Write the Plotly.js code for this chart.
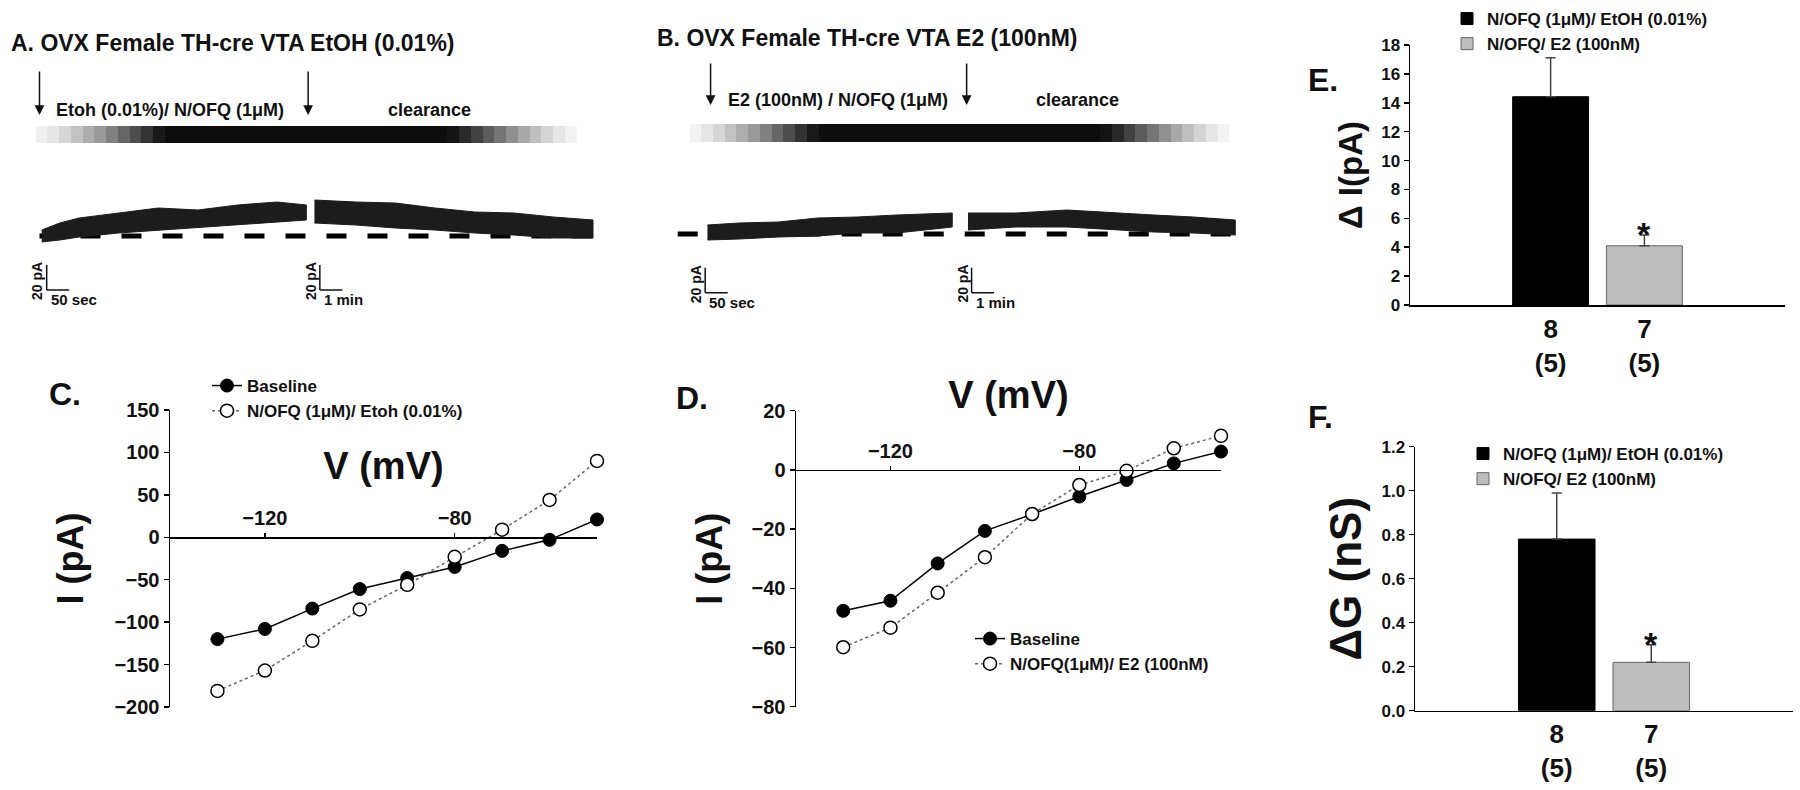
<!DOCTYPE html>
<html>
<head>
<meta charset="utf-8">
<script src="https://cdn.plot.ly/plotly-3.0.1.min.js"></script>
<style>html,body{margin:0;padding:0;background:#fff;}#chart{width:1800px;height:790px;}</style>
</head>
<body>
<div id="chart"></div>
<script>
// ---------------- DATA ----------------
// Panel A recording (time s, current pA): upper / lower envelope of the noisy trace
const tA1 = [5, 45, 88, 176, 264, 352, 440, 528, 593];
const upA1 = [4.8, 10.4, 14.4, 18.4, 22.4, 20.8, 24.8, 27.2, 24.8];
const loA1 = [-4.8, -3.2, -0.8, 2.4, 4.8, 7.2, 8.8, 11.2, 12.8];
const tA2 = [611, 703, 791, 879, 967, 1054, 1142, 1230];
const upA2 = [28.8, 27.2, 26.4, 22.4, 19.2, 18.4, 15.2, 12.8];
const loA2 = [10.4, 8.8, 6.4, 4.8, 2.4, 0.8, -1.6, -1.6];
const baseA_t = [0, 1266];
const baseA_i = [0, 0];
const drugTimesA = [0, 597];

// Panel B recording
const tB1 = [5, 75, 163, 250, 338, 426, 549];
const upB1 = [7.2, 8.8, 9.6, 12.8, 13.6, 15.2, 16.8];
const loB1 = [-4.8, -4.0, -2.4, -1.6, 0.8, 0.8, 5.6];
const tB2 = [584, 690, 804, 910, 997, 1085, 1178];
const upB2 = [16.8, 16.8, 19.2, 16.8, 15.2, 13.6, 11.2];
const loB2 = [3.2, 5.6, 5.6, 3.2, 1.6, 0.8, -0.8];
const baseB_t = [-61, 1208];
const baseB_i = [0, 0];
const drugTimesB = [12, 581];

// Perfusion bars (darkness 0..1)
const gradA = [0.06, 0.10, 0.16, 0.24, 0.32, 0.40, 0.50, 0.60, 0.70, 0.80, 0.90,
  0.95, 0.95, 0.95, 0.95, 0.95, 0.95, 0.95, 0.95, 0.95, 0.95, 0.95, 0.95,
  0.95, 0.95, 0.95, 0.95, 0.95, 0.95, 0.95, 0.95, 0.95, 0.95, 0.95, 0.95,
  0.92, 0.84, 0.74, 0.64, 0.54, 0.44, 0.34, 0.25, 0.17, 0.10, 0.05];
const gradB = [0.05, 0.10, 0.16, 0.24, 0.32, 0.40, 0.50, 0.60, 0.70, 0.80, 0.90,
  0.95, 0.95, 0.95, 0.95, 0.95, 0.95, 0.95, 0.95, 0.95, 0.95, 0.95, 0.95,
  0.95, 0.95, 0.95, 0.95, 0.95, 0.95, 0.95, 0.95, 0.95, 0.95, 0.95, 0.95,
  0.92, 0.84, 0.74, 0.64, 0.54, 0.44, 0.34, 0.25, 0.17, 0.10, 0.05];

// Panel C / D I-V curves
const voltages = [-130, -120, -110, -100, -90, -80, -70, -60, -50];
const cBaseline = [-120, -108, -84, -61, -48, -35, -16, -3, 21];
const cNOFQ = [-181, -157, -122, -85, -56, -23, 9, 44, 90];
const dBaseline = [-47.6, -44.2, -31.6, -20.6, -15.0, -9.0, -3.4, 2.2, 6.2];
const dNOFQ = [-59.9, -53.3, -41.5, -29.5, -14.9, -5.1, -0.3, 7.3, 11.5];

// Panel E / F bars
const groupNames = ['N/OFQ (1μM)/ EtOH (0.01%)', 'N/OFQ/ E2 (100nM)'];
const nCells = ['8', '7'];
const nAnimals = ['(5)', '(5)'];
const deltaI = [14.42, 4.1];
const deltaIsem = [2.7, 0.75];
const deltaG = [0.78, 0.22];
const deltaGsem = [0.21, 0.08];

// ---------------- HELPERS ----------------
const W = 1800, H = 790;
const FF = 'Liberation Sans, Arial, Helvetica, sans-serif';
const fx = p => p / W;
const fy = p => 1 - p / H;
const bold = (size, color) => ({family: FF, size: size, color: color || '#111', weight: 'bold'});
const band = (t, up, lo) => ({x: t.concat(t.slice().reverse()), y: up.concat(lo.slice().reverse())});
const zeroPos = (dom, rng) => dom[0] + (0 - rng[0]) / (rng[1] - rng[0]) * (dom[1] - dom[0]);

const traces = [];

// Recording A
traces.push({type: 'scatter', mode: 'lines', x: baseA_t, y: baseA_i, xaxis: 'x5', yaxis: 'y5',
  line: {color: '#000', width: 5, dash: '20px,21px'}, showlegend: false, hoverinfo: 'skip'});
[[tA1, upA1, loA1], [tA2, upA2, loA2]].forEach(s => {
  const b = band(s[0], s[1], s[2]);
  traces.push({type: 'scatter', mode: 'lines', x: b.x, y: b.y, fill: 'toself', fillcolor: '#1c1c1c',
    line: {color: '#1c1c1c', width: 1}, xaxis: 'x5', yaxis: 'y5', showlegend: false, hoverinfo: 'skip'});
});
// Recording B
traces.push({type: 'scatter', mode: 'lines', x: baseB_t, y: baseB_i, xaxis: 'x6', yaxis: 'y6',
  line: {color: '#000', width: 5, dash: '20px,21px'}, showlegend: false, hoverinfo: 'skip'});
[[tB1, upB1, loB1], [tB2, upB2, loB2]].forEach(s => {
  const b = band(s[0], s[1], s[2]);
  traces.push({type: 'scatter', mode: 'lines', x: b.x, y: b.y, fill: 'toself', fillcolor: '#1c1c1c',
    line: {color: '#1c1c1c', width: 1}, xaxis: 'x6', yaxis: 'y6', showlegend: false, hoverinfo: 'skip'});
});
// Perfusion gradient bars
const gray = [[0, '#ffffff'], [1, '#000000']];
traces.push({type: 'heatmap', z: [gradA], xaxis: 'x7', yaxis: 'y7', colorscale: gray, zmin: 0, zmax: 1,
  showscale: false, hoverinfo: 'skip'});
traces.push({type: 'heatmap', z: [gradB], xaxis: 'x8', yaxis: 'y8', colorscale: gray, zmin: 0, zmax: 1,
  showscale: false, hoverinfo: 'skip'});

// Panel C
traces.push({type: 'scatter', mode: 'lines+markers', name: 'Baseline', x: voltages, y: cBaseline,
  xaxis: 'x', yaxis: 'y', legend: 'legend', cliponaxis: false,
  line: {color: '#000', width: 1.5}, marker: {size: 13, color: '#000', line: {color: '#000', width: 1}}});
traces.push({type: 'scatter', mode: 'lines+markers', name: 'N/OFQ (1μM)/ Etoh (0.01%)', x: voltages, y: cNOFQ,
  xaxis: 'x', yaxis: 'y', legend: 'legend', cliponaxis: false,
  line: {color: '#666', width: 1.5, dash: 'dot'}, marker: {size: 13, color: '#fff', line: {color: '#000', width: 1.5}}});
// Panel D
traces.push({type: 'scatter', mode: 'lines+markers', name: 'Baseline', x: voltages, y: dBaseline,
  xaxis: 'x2', yaxis: 'y2', legend: 'legend2', cliponaxis: false,
  line: {color: '#000', width: 1.5}, marker: {size: 13, color: '#000', line: {color: '#000', width: 1}}});
traces.push({type: 'scatter', mode: 'lines+markers', name: 'N/OFQ(1μM)/ E2 (100nM)', x: voltages, y: dNOFQ,
  xaxis: 'x2', yaxis: 'y2', legend: 'legend2', cliponaxis: false,
  line: {color: '#666', width: 1.5, dash: 'dot'}, marker: {size: 13, color: '#fff', line: {color: '#000', width: 1.5}}});

// Panels E and F
const barColors = ['#000000', '#bdbdbd'];
const barLines = ['#000000', '#666666'];
const errColors = ['#444444', '#444444'];
[[deltaI, deltaIsem, 'x3', 'y3', 'legend3'], [deltaG, deltaGsem, 'x4', 'y4', 'legend4']].forEach(p => {
  for (let i = 0; i < 2; i++) {
    traces.push({type: 'bar', name: groupNames[i], x: [i], y: [p[0][i]], width: 0.81,
      xaxis: p[2], yaxis: p[3], legend: p[4],
      marker: {color: barColors[i], line: {color: barLines[i], width: 1}},
      error_y: {type: 'data', array: [p[1][i]], arrayminus: [0], symmetric: false, visible: true,
        color: errColors[i], thickness: 1.5, width: 5}});
  }
});

// ---------------- LAYOUT ----------------
const domC_x = [fx(170), fx(597)], domC_y = [fy(707), fy(410)], rngC = [-200, 150];
const domD_x = [fx(796), fx(1221)], domD_y = [fy(706.7), fy(410.7)], rngD = [-80, 20];
const catLabels = nCells.map((n, i) => n + '<br>' + nAnimals[i]);
const hidden = {visible: false, showgrid: false, zeroline: false, fixedrange: true};

const ivX = (dom, ypos, standoff, title) => ({
  domain: dom, range: [-140, -50], anchor: 'free', position: ypos, side: 'top',
  tickvals: [-120, -80], ticks: 'outside', ticklen: 4, tickwidth: 1.5, tickcolor: '#000',
  showline: true, linecolor: '#000', linewidth: 1.5, zeroline: false, showgrid: false,
  tickfont: bold(20), automargin: false,
  title: {text: title, font: bold(38), standoff: standoff}
});
const ivY = (dom, rng, dt, xa, standoff) => ({
  domain: dom, range: rng, anchor: xa, dtick: dt, ticks: 'outside', ticklen: 5, tickwidth: 1.5,
  tickcolor: '#000', showline: true, linecolor: '#000', linewidth: 1.5, zeroline: false, showgrid: false,
  tickfont: bold(20), automargin: false,
  title: {text: 'I (pA)', font: bold(36), standoff: standoff}
});
const barX = (dom, ya) => ({
  domain: dom, range: [-1.5, 2.5], anchor: ya, tickvals: [0, 1], ticktext: catLabels,
  ticks: 'outside', ticklen: 0, tickcolor: 'rgba(0,0,0,0)',
  showline: true, linecolor: '#000', linewidth: 1.5, zeroline: false, showgrid: false,
  tickfont: bold(26), automargin: false
});
const barY = (dom, rng, dt, xa, title, tsize, fmt, standoff) => ({
  domain: dom, range: rng, anchor: xa, dtick: dt, tickformat: fmt, ticks: 'outside', ticklen: 5,
  tickwidth: 1.5, tickcolor: '#000', showline: true, linecolor: '#000', linewidth: 1.5,
  zeroline: false, showgrid: false, tickfont: bold(17), automargin: false,
  title: {text: title, font: bold(tsize), standoff: standoff}
});

const legendBase = {xanchor: 'left', yanchor: 'top', bgcolor: 'rgba(0,0,0,0)', borderwidth: 0,
  font: bold(17), tracegroupgap: 0};

const annotations = [];
const txt = (text, x, y, size, opts) => Object.assign({text: text, x: x, y: y, xref: 'paper', yref: 'paper',
  xanchor: 'left', yanchor: 'middle', showarrow: false, font: bold(size)}, opts || {});

// titles and labels, panels A and B
annotations.push(txt('A. OVX Female TH-cre VTA EtOH (0.01%)', fx(9), fy(43), 23));
annotations.push(txt('B. OVX Female TH-cre VTA E2 (100nM)', fx(655), fy(38), 23));
annotations.push(txt('Etoh (0.01%)/ N/OFQ (1μM)', fx(54), fy(110), 18));
annotations.push(txt('clearance', fx(386), fy(110), 18));
annotations.push(txt('E2 (100nM) / N/OFQ (1μM)', fx(726), fy(100), 18));
annotations.push(txt('clearance', fx(1034), fy(100), 18));
// arrows marking drug application / washout
drugTimesA.forEach(t => annotations.push({x: t, y: fy(115), xref: 'x5', yref: 'paper', text: '',
  showarrow: true, ax: 0, ay: -45, arrowhead: 2, arrowsize: 1.3, arrowwidth: 1.5, arrowcolor: '#111'}));
drugTimesB.forEach(t => annotations.push({x: t, y: fy(105), xref: 'x6', yref: 'paper', text: '',
  showarrow: true, ax: 0, ay: -43, arrowhead: 2, arrowsize: 1.3, arrowwidth: 1.5, arrowcolor: '#111'}));

// scale bars
const shapes = [];
const scaleBar = (xa, ya, t0, i0, tlen, ilen, tLabel) => {
  shapes.push({type: 'line', xref: xa, yref: ya, x0: t0, x1: t0, y0: i0, y1: i0 + ilen, line: {color: '#111', width: 1.5}});
  shapes.push({type: 'line', xref: xa, yref: ya, x0: t0, x1: t0 + tlen, y0: i0, y1: i0, line: {color: '#111', width: 1.5}});
  annotations.push({text: '20 pA', textangle: -90, x: t0, y: i0 + ilen / 2 - 3, xref: xa, yref: ya,
    xanchor: 'right', yanchor: 'middle', xshift: 1, showarrow: false, font: bold(14)});
  annotations.push({text: tLabel, x: t0, y: i0, xref: xa, yref: ya, xanchor: 'left', yanchor: 'top',
    xshift: 2, yshift: 1, showarrow: false, font: bold(15)});
};
scaleBar('x5', 'y5', 16, -43.2, 50, 20, '50 sec');
scaleBar('x5', 'y5', 623, -43.2, 50, 20, '1 min');
scaleBar('x6', 'y6', 0, -47, 50, 20, '50 sec');
scaleBar('x6', 'y6', 592, -47, 50, 20, '1 min');

// panel letters
annotations.push(txt('C.', fx(47), fy(394), 32));
annotations.push(txt('D.', fx(674), fy(398), 32));
annotations.push(txt('E.', fx(1306), fy(80), 32));
annotations.push(txt('F.', fx(1306), fy(417), 32));

// significance stars
annotations.push({text: '*', x: 1, y: deltaI[1] + deltaIsem[1], xref: 'x3', yref: 'y3', showarrow: false,
  yanchor: 'bottom', yshift: -20, font: bold(34)});
annotations.push({text: '*', x: 1, y: deltaG[1] + deltaGsem[1], xref: 'x4', yref: 'y4', showarrow: false,
  yanchor: 'bottom', yshift: -20, font: bold(34)});

const layout = {
  width: W, height: H, margin: {l: 0, r: 0, t: 0, b: 0, pad: 0, autoexpand: false},
  paper_bgcolor: '#ffffff', plot_bgcolor: 'rgba(0,0,0,0)',
  font: {family: FF, color: '#111'},
  barmode: 'overlay', showlegend: true, hovermode: false,
  xaxis: ivX(domC_x, zeroPos(domC_y, rngC), 14, 'V (mV)'),
  yaxis: ivY(domC_y, rngC, 50, 'x', 20),
  xaxis2: ivX(domD_x, zeroPos(domD_y, rngD), 18, 'V (mV)'),
  yaxis2: ivY(domD_y, rngD, 20, 'x2', 18),
  xaxis3: barX([fx(1410), fx(1785)], 'y3'),
  yaxis3: barY([fy(305), fy(45)], [0, 18], 2, 'x3', 'Δ I(pA)', 33, '', 8),
  xaxis4: barX([fx(1415), fx(1793)], 'y4'),
  yaxis4: barY([fy(710.7), fy(446.7)], [0, 1.2], 0.2, 'x4', 'ΔG (nS)', 44, '.1f', 6),
  xaxis5: Object.assign({domain: [fx(20), fx(620)], range: [-43.3, 1290], anchor: 'y5'}, hidden),
  yaxis5: Object.assign({domain: [fy(310), fy(150)], range: [-59.2, 68.8], anchor: 'x5'}, hidden),
  xaxis6: Object.assign({domain: [fx(660), fx(1260)], range: [-100.4, 1232.9], anchor: 'y6'}, hidden),
  yaxis6: Object.assign({domain: [fy(310), fy(150)], range: [-60.8, 67.2], anchor: 'x6'}, hidden),
  xaxis7: Object.assign({domain: [fx(35.6), fx(577)], range: [-0.5, 45.5], anchor: 'y7'}, hidden),
  yaxis7: Object.assign({domain: [fy(143), fy(126)], range: [-0.5, 0.5], anchor: 'x7'}, hidden),
  xaxis8: Object.assign({domain: [fx(689.4), fx(1229)], range: [-0.5, 45.5], anchor: 'y8'}, hidden),
  yaxis8: Object.assign({domain: [fy(142), fy(124)], range: [-0.5, 0.5], anchor: 'x8'}, hidden),
  legend: Object.assign({}, legendBase, {x: fx(207), y: fy(368)}),
  legend2: Object.assign({}, legendBase, {x: fx(970), y: fy(621)}),
  legend3: Object.assign({}, legendBase, {x: fx(1447), y: fy(1)}),
  legend4: Object.assign({}, legendBase, {x: fx(1463), y: fy(436)}),
  annotations: annotations,
  shapes: shapes
};

Plotly.newPlot('chart', traces, layout, {displayModeBar: false, staticPlot: true});
</script>
</body>
</html>
